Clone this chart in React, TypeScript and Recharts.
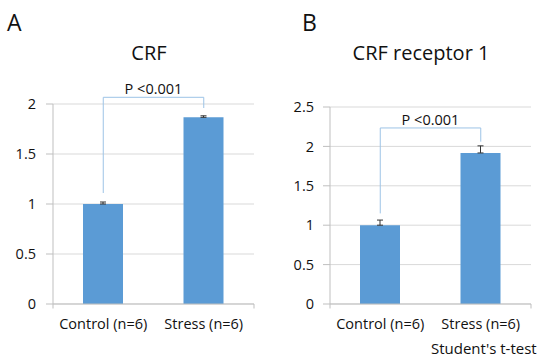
import React from 'react';
import { BarChart, Bar, XAxis, YAxis, CartesianGrid, ErrorBar, ReferenceLine } from 'recharts';

const categories = ['Control (n=6)', 'Stress (n=6)'];
const crfMeans = [1.0, 1.867];
const crfErrors = [0.02, 0.015];
const crfr1Means = [1.0, 1.917];
const crfr1Errors = [0.065, 0.09];
const crfTicks = [0, 0.5, 1, 1.5, 2];
const crfr1Ticks = [0, 0.5, 1, 1.5, 2, 2.5];
const crfBracket = [2.067, 1.11, 1.96];
const crfr1Bracket = [2.234, 1.15, 2.06];
const pLabel = 'P <0.001';

const FONT = '"Open Sans", "Noto Sans", sans-serif';
const TEXT = '#111';
const GRID = '#d9d9d9';
const AXIS = '#bfbfbf';
const BAR = '#5b9bd5';
const BRACKET = '#9dc3e6';
const FS = 14.5;

type PanelProps = {
  left: number;
  means: number[];
  errors: number[];
  ticks: number[];
  bracket: number[];
  margin: { top: number; right: number; bottom: number; left: number };
  yWidth: number;
  tickGap: number;
  tickLen: number;
};

function Panel({ left, means, errors, ticks, bracket, margin, yWidth, tickGap, tickLen }: PanelProps) {
  const data = categories.map((name, i) => ({ name, value: means[i], err: [0, errors[i]] }));
  const maxY = ticks[ticks.length - 1];
  const [top, lEnd, rEnd] = bracket;
  return (
    <div style={{ position: 'absolute', left, top: 0 }}>
      <BarChart width={270} height={364} data={data} margin={margin}>
        <CartesianGrid horizontal vertical={false} stroke={GRID} />
        <XAxis
          dataKey="name"
          tickLine={false}
          axisLine={{ stroke: AXIS }}
          tick={{ fill: TEXT, fontSize: FS, fontFamily: FONT }}
          tickMargin={9}
          height={30}
          interval={0}
        />
        <XAxis xAxisId="edge" type="number" domain={[0, 2]} hide allowDataOverflow />
        <YAxis
          type="number"
          domain={[0, maxY]}
          ticks={ticks}
          width={yWidth}
          axisLine={{ stroke: AXIS }}
          tickLine={{ stroke: AXIS }}
          tickSize={7}
          tickMargin={tickGap}
          tick={{ fill: TEXT, fontSize: FS, fontFamily: FONT }}
          interval={0}
        />
        <Bar dataKey="value" fill={BAR} barSize={40} isAnimationActive={false}>
          <ErrorBar dataKey="err" direction="y" width={3} stroke="#333" strokeWidth={1} />
        </Bar>
        {[0, 1, 2].map((v) => (
          <ReferenceLine
            key={v}
            xAxisId="edge"
            segment={[{ x: v, y: 0 }, { x: v, y: -tickLen }]}
            stroke={AXIS}
            ifOverflow="visible"
          />
        ))}
        <ReferenceLine
          segment={[{ x: categories[0], y: top }, { x: categories[1], y: top }]}
          stroke={BRACKET}
          ifOverflow="visible"
          label={{ value: pLabel, position: 'top', fill: TEXT, fontSize: FS, fontFamily: FONT, offset: 3 }}
        />
        <ReferenceLine
          segment={[{ x: categories[0], y: top }, { x: categories[0], y: lEnd }]}
          stroke={BRACKET}
          ifOverflow="visible"
        />
        <ReferenceLine
          segment={[{ x: categories[1], y: top }, { x: categories[1], y: rEnd }]}
          stroke={BRACKET}
          ifOverflow="visible"
        />
      </BarChart>
    </div>
  );
}

export default function App() {
  return (
    <div style={{ position: 'absolute', left: 0, top: 0, width: 538, height: 364, background: '#fff', fontFamily: FONT, color: TEXT, overflow: 'hidden' }}>
      <Panel
        left={0}
        means={crfMeans}
        errors={crfErrors}
        ticks={crfTicks}
        bracket={crfBracket}
        margin={{ top: 104, right: 16, bottom: 30, left: 0 }}
        yWidth={53}
        tickGap={10}
        tickLen={0.045}
      />
      <Panel
        left={268}
        means={crfr1Means}
        errors={crfr1Errors}
        ticks={crfr1Ticks}
        bracket={crfr1Bracket}
        margin={{ top: 107, right: 7, bottom: 30, left: 0 }}
        yWidth={62}
        tickGap={9}
        tickLen={0.057}
      />
      <div style={{ position: 'absolute', left: 7, top: 7, fontSize: 23, lineHeight: '30px' }}>A</div>
      <div style={{ position: 'absolute', left: 302, top: 7, fontSize: 23, lineHeight: '30px' }}>B</div>
      <div style={{ position: 'absolute', left: 49, width: 200, top: 40, textAlign: 'center', fontSize: 20, lineHeight: '26px' }}>CRF</div>
      <div style={{ position: 'absolute', left: 321, width: 200, top: 40, textAlign: 'center', fontSize: 20, lineHeight: '26px' }}>CRF receptor 1</div>
      <div style={{ position: 'absolute', left: 431, top: 338, fontSize: 15, lineHeight: '20px', whiteSpace: 'nowrap' }}>Student's t-test</div>
    </div>
  );
}
